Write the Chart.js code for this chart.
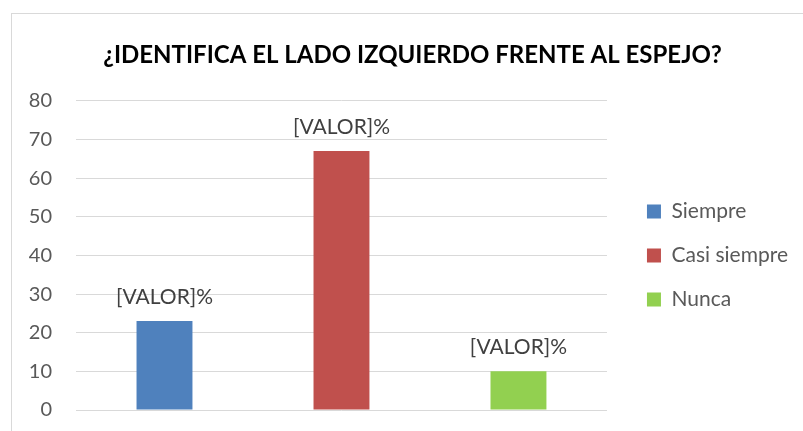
<!DOCTYPE html>
<html>
<head>
<meta charset="utf-8">
<script src="https://cdn.jsdelivr.net/npm/chart.js@4/dist/chart.umd.min.js"></script>
<style>
  html, body { margin: 0; padding: 0; background: #fff; overflow: hidden; width: 803px; height: 431px; }
  #frame { position: absolute; left: 11px; top: 13px; width: 806px; height: 440px; border: 1px solid #d9d9d9; box-sizing: border-box; background: #fff; }
  #c { display: block; }
</style>
</head>
<body>
<div id="frame"><canvas id="c" width="804" height="438"></canvas></div>
<script>
const titleText = '¿IDENTIFICA EL LADO IZQUIERDO FRENTE AL ESPEJO?';
const categories = ['Siempre', 'Casi siempre', 'Nunca'];
const values = [23, 67, 10];
const barColors = ['#4f81bd', '#c0504d', '#92d050'];
const dataLabel = '[VALOR]%';
const yTicks = [0, 10, 20, 30, 40, 50, 60, 70, 80];

const FONT = "Lato, 'Open Sans', 'Liberation Sans', sans-serif";

const valueLabels = {
  id: 'valueLabels',
  afterDatasetsDraw(chart) {
    const ctx = chart.ctx;
    const meta = chart.getDatasetMeta(0);
    ctx.save();
    ctx.font = '21px ' + FONT;
    ctx.fillStyle = '#404040';
    ctx.textAlign = 'center';
    ctx.textBaseline = 'middle';
    meta.data.forEach((bar) => {
      ctx.fillText(dataLabel, bar.x, bar.y - 24);
    });
    ctx.restore();
  }
};

new Chart(document.getElementById('c'), {
  type: 'bar',
  data: {
    labels: categories,
    datasets: [{
      data: values,
      backgroundColor: barColors,
      borderWidth: 0,
      categoryPercentage: 1,
      barPercentage: 0.316
    }]
  },
  options: {
    responsive: false,
    animation: false,
    devicePixelRatio: 1,
    layout: { padding: { left: 15, right: 18, top: 0, bottom: 34 } },
    plugins: {
      title: {
        display: true,
        text: titleText,
        color: '#000000',
        font: { family: FONT, size: 24, weight: 'bold' },
        padding: { top: 27, bottom: 31 }
      },
      legend: {
        display: true,
        position: 'right',
        fullSize: false,
        maxWidth: 400,
        labels: {
          color: '#595959',
          font: { family: FONT, size: 21 },
          boxWidth: 14,
          boxHeight: 14,
          padding: 23,
          generateLabels: () => categories.map((c, i) => ({
            text: c,
            fillStyle: barColors[i],
            strokeStyle: barColors[i],
            lineWidth: 0,
            fontColor: '#595959',
            index: i
          }))
        }
      },
      tooltip: { enabled: false }
    },
    scales: {
      x: {
        ticks: { display: false },
        grid: { display: false },
        border: { display: false }
      },
      y: {
        min: 0,
        max: 80,
        afterBuildTicks: (scale) => { scale.ticks = yTicks.map(v => ({ value: v })); },
        afterFit: (scale) => { scale.width = 49; },
        ticks: {
          color: '#595959',
          font: { family: FONT, size: 20 },
          padding: 24
        },
        grid: { color: '#d9d9d9', lineWidth: 1, drawTicks: false },
        border: { display: false }
      },
      y2: {
        position: 'right',
        display: true,
        ticks: { display: false },
        grid: { display: false, drawTicks: false },
        border: { display: false },
        afterFit: (scale) => { scale.width = 17; }
      }
    }
  },
  plugins: [valueLabels]
});
</script>
</body>
</html>
